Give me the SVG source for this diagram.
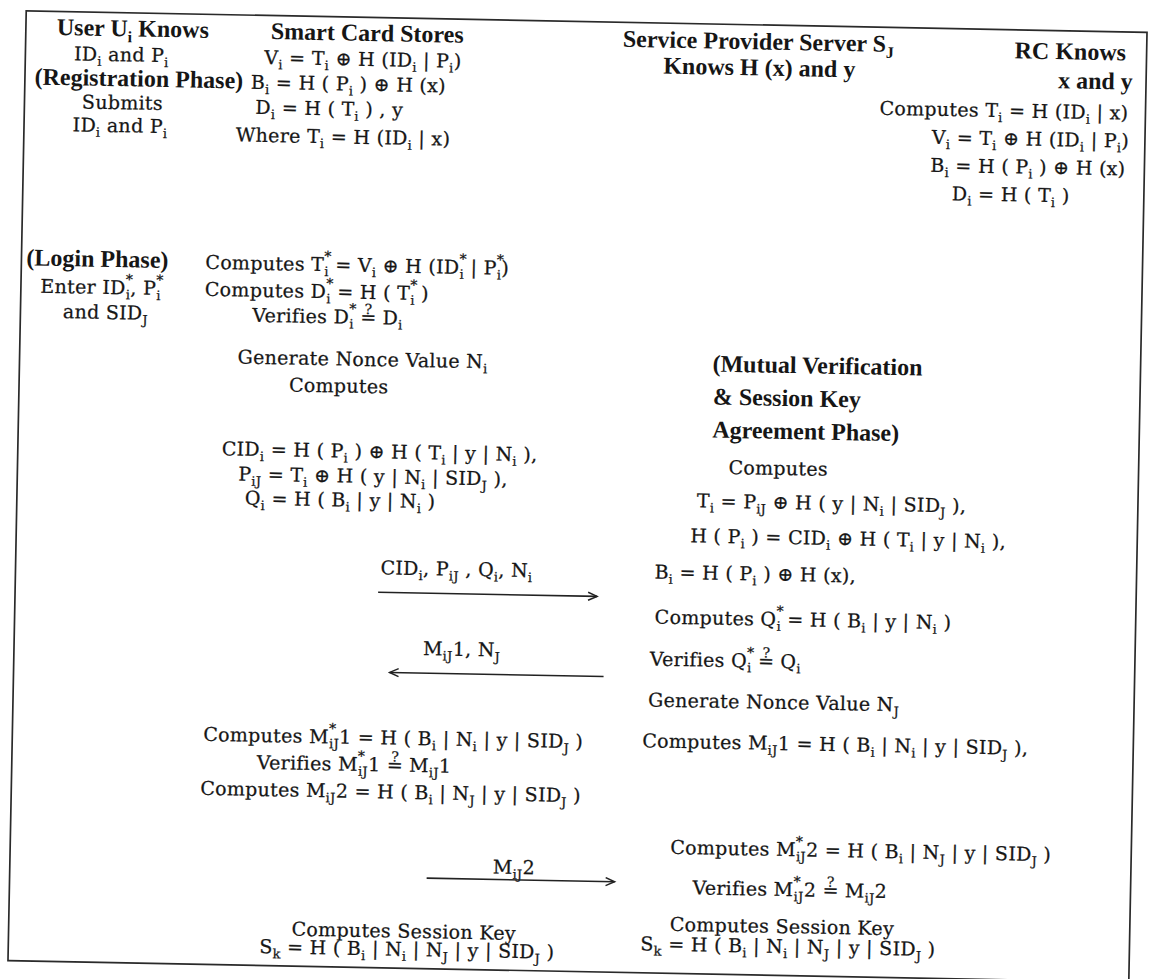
<svg xmlns="http://www.w3.org/2000/svg" width="1158" height="979" viewBox="0 0 1158 979">
<style>
.t{font-family:"DejaVu Serif","Liberation Serif",serif;font-size:19px;letter-spacing:0.3px;fill:#161616;stroke:#161616;stroke-width:0.25}
.b{font-family:"Liberation Serif",serif;font-weight:bold;font-size:24px;fill:#161616}
.s{font-size:13px;baseline-shift:-5px}
.sb{font-size:16px;baseline-shift:-6px}
.u{font-size:14px;baseline-shift:10px}
.q{font-size:14px;baseline-shift:10px}
.ln{stroke:#222;stroke-width:1.6;fill:none}
</style>
<defs>
<marker id="ah" markerWidth="12" markerHeight="10" refX="10" refY="5" orient="auto" markerUnits="userSpaceOnUse"><path d="M1,1 L10,5 L1,9" fill="none" stroke="#222" stroke-width="1.5"/></marker>
</defs>
<rect width="1158" height="979" fill="#fff"/>
<g transform="rotate(1.1 577.5 496.5)">
<rect id="frame" x="17" y="21.5" width="1121" height="950" fill="none" stroke="#2a2a2a" stroke-width="1.7"/>

<g id="user-registration">
<text class="b" x="124" y="45" text-anchor="middle">User U<tspan class="sb">i</tspan> Knows</text>
<text class="t" x="113" y="70" text-anchor="middle">ID<tspan class="s">i</tspan> and P<tspan class="s">i</tspan></text>
<text class="b" x="131" y="95" text-anchor="middle">(Registration Phase)</text>
<text class="t" x="115" y="118" text-anchor="middle">Submits</text>
<text class="t" x="113" y="141" text-anchor="middle">ID<tspan class="s">i</tspan> and P<tspan class="s">i</tspan></text>
</g>

<g id="smart-card">
<text class="b" x="262" y="45">Smart Card Stores</text>
<text class="t" x="256" y="70">V<tspan class="s">i</tspan> = T<tspan class="s">i</tspan> ⊕ H (ID<tspan class="s">i</tspan> | P<tspan class="s">i</tspan>)</text>
<text class="t" x="243" y="95">B<tspan class="s">i</tspan> = H ( P<tspan class="s">i</tspan> ) ⊕ H (x)</text>
<text class="t" x="248" y="120">D<tspan class="s">i</tspan> = H ( T<tspan class="s">i</tspan> ) , y</text>
<text class="t" x="229" y="148">Where T<tspan class="s">i</tspan> = H (ID<tspan class="s">i</tspan> | x)</text>
</g>

<g id="service-provider">
<text class="b" x="614" y="46">Service Provider Server S<tspan class="sb">J</tspan></text>
<text class="b" x="655" y="72">Knows H (x) and y</text>
</g>

<g id="rc">
<text class="b" x="1006" y="50">RC Knows</text>
<text class="b" x="1050" y="79">x and y</text>
<text class="t" x="872" y="109">Computes T<tspan class="s">i</tspan> = H (ID<tspan class="s">i</tspan> | x)</text>
<text class="t" x="925" y="137">V<tspan class="s">i</tspan> = T<tspan class="s">i</tspan> ⊕ H (ID<tspan class="s">i</tspan> | P<tspan class="s">i</tspan>)</text>
<text class="t" x="924" y="165">B<tspan class="s">i</tspan> = H ( P<tspan class="s">i</tspan> ) ⊕ H (x)</text>
<text class="t" x="946" y="193">D<tspan class="s">i</tspan> = H ( T<tspan class="s">i</tspan> )</text>
</g>

<g id="user-login">
<text class="b" x="93" y="276" text-anchor="middle">(Login Phase)</text>
<text class="t" x="98" y="303" text-anchor="middle">Enter ID<tspan class="u">*</tspan><tspan class="s" dx="-7">i</tspan>, P<tspan class="u">*</tspan><tspan class="s" dx="-7">i</tspan></text>
<text class="t" x="102" y="328" text-anchor="middle">and SID<tspan class="s">J</tspan></text>
</g>

<g id="card-login">
<text class="t" x="201" y="276">Computes T<tspan class="u">*</tspan><tspan class="s" dx="-7">i</tspan> = V<tspan class="s">i</tspan> ⊕ H (ID<tspan class="u">*</tspan><tspan class="s" dx="-7">i</tspan> | P<tspan class="u">*</tspan><tspan class="s" dx="-7">i</tspan>)</text>
<text class="t" x="201" y="303">Computes D<tspan class="u">*</tspan><tspan class="s" dx="-7">i</tspan> = H ( T<tspan class="u">*</tspan><tspan class="s" dx="-7">i</tspan> )</text>
<text class="t" x="249" y="328">Verifies D<tspan class="u">*</tspan><tspan class="s" dx="-7">i</tspan> <tspan>=</tspan><tspan class="q" dx="-12">?</tspan><tspan dx="4"> D</tspan><tspan class="s">i</tspan></text>
<text class="t" x="235" y="370">Generate Nonce Value N<tspan class="s">i</tspan></text>
<text class="t" x="287" y="397">Computes</text>
<text class="t" x="221" y="462">CID<tspan class="s">i</tspan> = H ( P<tspan class="s">i</tspan> ) ⊕ H ( T<tspan class="s">i</tspan> | y | N<tspan class="s">i</tspan> ),</text>
<text class="t" x="238" y="487">P<tspan class="s">iJ</tspan> = T<tspan class="s">i</tspan> ⊕ H ( y | N<tspan class="s">i</tspan> | SID<tspan class="s">J</tspan> ),</text>
<text class="t" x="245" y="511">Q<tspan class="s">i</tspan> = H ( B<tspan class="s">i</tspan> | y | N<tspan class="s">i</tspan> )</text>
</g>

<g id="server-verify">
<text class="b" x="710" y="369">(Mutual Verification</text>
<text class="b" x="711" y="402">&amp; Session Key</text>
<text class="b" x="711" y="435">Agreement Phase)</text>
<text class="t" x="728" y="471">Computes</text>
<text class="t" x="697" y="505">T<tspan class="s">i</tspan> = P<tspan class="s">iJ</tspan> ⊕ H ( y | N<tspan class="s">i</tspan> | SID<tspan class="s">J</tspan> ),</text>
<text class="t" x="691" y="540">H ( P<tspan class="s">i</tspan> ) = CID<tspan class="s">i</tspan> ⊕ H ( T<tspan class="s">i</tspan> | y | N<tspan class="s">i</tspan> ),</text>
<text class="t" x="656" y="577">B<tspan class="s">i</tspan> = H ( P<tspan class="s">i</tspan> ) ⊕ H (x),</text>
<text class="t" x="657" y="622">Computes Q<tspan class="u">*</tspan><tspan class="s" dx="-7">i</tspan> = H ( B<tspan class="s">i</tspan> | y | N<tspan class="s">i</tspan> )</text>
<text class="t" x="653" y="664">Verifies Q<tspan class="u">*</tspan><tspan class="s" dx="-7">i</tspan> <tspan>=</tspan><tspan class="q" dx="-12">?</tspan><tspan dx="4"> Q</tspan><tspan class="s">i</tspan></text>
<text class="t" x="652" y="705">Generate Nonce Value N<tspan class="s">J</tspan></text>
<text class="t" x="647" y="746">Computes M<tspan class="s">iJ</tspan>1 = H ( B<tspan class="s">i</tspan> | N<tspan class="s">i</tspan> | y | SID<tspan class="s">J</tspan> ),</text>
</g>

<g id="card-verify">
<text class="t" x="208" y="748">Computes M<tspan class="u">*</tspan><tspan class="s" dx="-7">iJ</tspan>1 = H ( B<tspan class="s">i</tspan> | N<tspan class="s">i</tspan> | y | SID<tspan class="s">J</tspan> )</text>
<text class="t" x="262" y="775">Verifies M<tspan class="u">*</tspan><tspan class="s" dx="-7">iJ</tspan>1 <tspan>=</tspan><tspan class="q" dx="-12">?</tspan><tspan dx="4"> M</tspan><tspan class="s">iJ</tspan>1</text>
<text class="t" x="206" y="802">Computes M<tspan class="s">iJ</tspan>2 = H ( B<tspan class="s">i</tspan> | N<tspan class="s">J</tspan> | y | SID<tspan class="s">J</tspan> )</text>
</g>

<g id="card-session">
<text class="t" x="300" y="941">Computes Session Key</text>
<text class="t" x="268" y="959">S<tspan class="s">k</tspan> = H ( B<tspan class="s">i</tspan> | N<tspan class="s">i</tspan> | N<tspan class="s">J</tspan> | y | SID<tspan class="s">J</tspan> )</text>
</g>

<g id="server-session">
<text class="t" x="677" y="852">Computes M<tspan class="u">*</tspan><tspan class="s" dx="-7">iJ</tspan>2 = H ( B<tspan class="s">i</tspan> | N<tspan class="s">J</tspan> | y | SID<tspan class="s">J</tspan> )</text>
<text class="t" x="700" y="892">Verifies M<tspan class="u">*</tspan><tspan class="s" dx="-7">iJ</tspan>2 <tspan>=</tspan><tspan class="q" dx="-12">?</tspan><tspan dx="4"> M</tspan><tspan class="s">iJ</tspan>2</text>
<text class="t" x="678" y="929">Computes Session Key</text>
<text class="t" x="649" y="949">S<tspan class="s">k</tspan> = H ( B<tspan class="s">i</tspan> | N<tspan class="s">i</tspan> | N<tspan class="s">J</tspan> | y | SID<tspan class="s">J</tspan> )</text>
</g>

<g id="connectors">
<text class="t" x="382" y="578">CID<tspan class="s">i</tspan>, P<tspan class="s">iJ</tspan> , Q<tspan class="s">i</tspan>, N<tspan class="s">i</tspan></text>
<line class="ln" x1="380" y1="596" x2="599" y2="596" marker-end="url(#ah)"/>
<text class="t" x="426" y="658">M<tspan class="s">iJ</tspan>1, N<tspan class="s">J</tspan></text>
<line class="ln" x1="607" y1="676" x2="393" y2="676" marker-end="url(#ah)"/>
<text class="t" x="500" y="875">M<tspan class="s">iJ</tspan>2</text>
<line class="ln" x1="434" y1="881" x2="622" y2="881" marker-end="url(#ah)"/>
</g>
</g>
</svg>
